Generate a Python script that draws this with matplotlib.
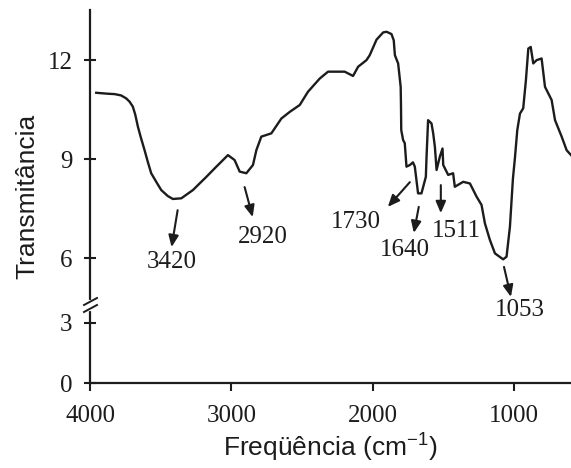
import numpy as np
import matplotlib
matplotlib.use("Agg")
import matplotlib.pyplot as plt

# spectrum (wavenumber in cm-1, transmittance)
wavenumber = [3956, 3870, 3826, 3780, 3744, 3720, 3697, 3680, 3661, 3640,
              3614, 3590, 3567, 3530, 3496, 3450, 3414, 3354,
              3272, 3177, 3106, 3024, 2977, 2941, 2894, 2847, 2823, 2788,
              2717, 2646, 2587, 2516, 2458, 2375, 2316, 2198, 2139, 2103,
              2044, 2021, 1973, 1926, 1902, 1867, 1851, 1843, 1820, 1802,
              1800, 1798, 1785, 1773, 1761, 1737, 1715, 1702, 1679, 1655,
              1624, 1619, 1608, 1584, 1572, 1560, 1548, 1525, 1506, 1501,
              1466, 1431, 1419, 1360, 1312, 1265, 1230, 1206, 1171, 1135,
              1077, 1053, 1029, 1008, 994, 977, 958, 935, 916, 899,
              882, 864, 840, 805, 781, 734, 710, 663, 628, 597]
transmittance = [11.01, 10.98, 10.97, 10.93, 10.84, 10.74, 10.59, 10.35, 9.98, 9.65,
                 9.27, 8.90, 8.57, 8.30, 8.06, 7.88, 7.79, 7.81,
                 8.06, 8.46, 8.77, 9.12, 8.97, 8.62, 8.57, 8.82, 9.27, 9.68,
                 9.78, 10.23, 10.43, 10.64, 11.04, 11.44, 11.65, 11.65, 11.52, 11.80,
                 12.00, 12.15, 12.62, 12.84, 12.86, 12.79, 12.60, 12.15, 11.90, 11.19,
                 10.69, 9.88, 9.58, 9.48, 8.77, 8.82, 8.90, 8.77, 7.96, 7.96,
                 8.46, 9.07, 10.18, 10.08, 9.78, 9.37, 8.67, 9.07, 9.32, 8.82,
                 8.52, 8.57, 8.16, 8.31, 8.26, 7.86, 7.61, 7.05, 6.55, 6.14,
                 5.96, 6.04, 6.95, 8.40, 9.02, 9.88, 10.38, 10.54, 11.39, 12.35,
                 12.40, 11.90, 12.00, 12.05, 11.19, 10.79, 10.18, 9.68, 9.27, 9.12]

# labelled bands: text, arrow tail, arrow head, text position
band_labels = ["3420", "2920", "1730", "1640", "1511", "1053"]
arrow_tail = [(3380, 7.45), (2906, 8.15), (1737, 8.30), (1674, 7.55), (1518, 8.21), (1071, 5.73)]
arrow_head = [(3423, 6.33), (2849, 7.24), (1893, 7.55), (1709, 6.76), (1518, 7.36), (1022, 4.82)]
label_pos = [(3423, 5.88), (2778, 6.64), (2120, 7.09), (1773, 6.24), (1405, 6.82), (958, 3.62)]

xticks = [4000, 3000, 2000, 1000]
yticks = [0, 3, 6, 9, 12]

# broken y axis: 0-3 compressed below the break, linear above it
ys = [-10, 0, 3, 3.9, 4.6, 30]
fs = [-3.86, 2.21, 4.03, 4.58, 4.6, 30]

def fwd(y):
    return np.interp(y, ys, fs)

def inv(f):
    return np.interp(f, fs, ys)

ink = "#1c1c1c"
serif = "Liberation Serif"
sans = "Liberation Sans"

fig = plt.figure(figsize=(5.71, 4.68), dpi=100)
ax = fig.add_axes([90 / 571, 1 - 383 / 468, 481 / 571, 373 / 468])

ax.plot(wavenumber, transmittance, color=ink, lw=1.7)

ax.set_yscale("function", functions=(fwd, inv))
ax.set_xlim(4000, 597)
ax.set_ylim(0, inv(13.52))

ax.set_xticks(xticks)
ax.set_yticks(yticks)
ax.set_xticklabels([str(t) for t in xticks], fontfamily=serif, fontsize=18, color=ink)
ax.set_yticklabels([str(t) for t in yticks], fontfamily=serif, fontsize=18, color=ink)
ax.tick_params(axis="x", direction="out", length=6, width=1.5, color=ink, pad=10)
ax.tick_params(axis="y", direction="inout", length=9, width=1.5, color=ink, pad=8)
ax.minorticks_off()

for s in ["top", "right"]:
    ax.spines[s].set_visible(False)
for s in ["left", "bottom"]:
    ax.spines[s].set_linewidth(1.6)
    ax.spines[s].set_color(ink)

ax.set_xlabel("Freqüência (cm$^{\\mathregular{-1}}$)", fontfamily=sans, fontsize=19, color=ink, labelpad=2)
ax.set_ylabel("Transmitância", fontfamily=sans, fontsize=19, color=ink, labelpad=6)

for lab, tail, head, pos in zip(band_labels, arrow_tail, arrow_head, label_pos):
    ax.annotate("", xy=head, xytext=tail,
                arrowprops=dict(arrowstyle="-|>,head_length=0.7,head_width=0.3",
                                lw=1.5, color=ink, shrinkA=0, shrinkB=0))
    ax.text(pos[0], pos[1], lab, fontfamily=serif, fontsize=18, color=ink,
            ha="center", va="center")

# break marks on the y axis
bx = [84 / 571, 97 / 571]
fig.add_artist(plt.Line2D([90 / 571, 90 / 571], [1 - 302 / 468, 1 - 309 / 468], color="white", lw=3))
for yb in [301, 308]:
    fig.add_artist(plt.Line2D(bx, [1 - (yb + 4) / 468, 1 - (yb - 3) / 468], color=ink, lw=1.4))

fig.savefig("out.png", dpi=100)
